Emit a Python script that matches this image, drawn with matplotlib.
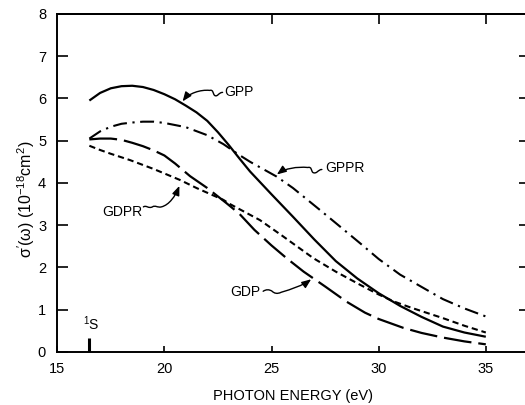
import matplotlib
matplotlib.use("Agg")
import matplotlib.pyplot as plt
import matplotlib.transforms as mtransforms
from matplotlib.path import Path
from matplotlib.patches import FancyArrowPatch

plt.rcParams['font.family'] = ['Liberation Sans', 'DejaVu Sans']
plt.rcParams['mathtext.fontset'] = 'custom'
plt.rcParams['mathtext.rm'] = 'Liberation Sans'
plt.rcParams['lines.scale_dashes'] = False

# photoionization cross sections (10^-18 cm^2) vs photon energy (eV)
gpp_e = [16.5, 17.0, 17.5, 18.0, 18.5, 19.0, 19.5, 20.0, 20.5, 21.0, 21.5, 22.0, 22.5,
         23.0, 23.5, 24.0, 25.0, 26.0, 27.0, 28.0, 29.0, 30.0, 31.0, 32.0, 33.0, 34.0, 35.0]
gpp_s = [5.95, 6.13, 6.24, 6.29, 6.30, 6.27, 6.20, 6.10, 5.98, 5.83, 5.67, 5.47, 5.20,
         4.90, 4.58, 4.27, 3.73, 3.20, 2.66, 2.15, 1.74, 1.39, 1.09, 0.83, 0.60, 0.46, 0.36]

gppr_e = [16.5, 17.0, 17.5, 18.0, 18.5, 19.0, 19.5, 20.0, 21.0, 22.0, 22.75, 23.5, 24.0,
          25.24, 26.0, 27.26, 28.0, 29.14, 30.0, 31.0, 32.24, 33.0, 34.0, 35.0]
gppr_s = [5.05, 5.22, 5.33, 5.40, 5.43, 5.45, 5.45, 5.42, 5.32, 5.13, 4.92, 4.66, 4.50,
          4.15, 3.88, 3.36, 3.05, 2.57, 2.20, 1.83, 1.47, 1.25, 1.03, 0.84]

gdp_e = [16.5, 17.0, 17.5, 18.0, 18.5, 19.0, 19.5, 20.0, 20.5, 21.2, 22.0, 22.9, 23.5,
         24.2, 25.0, 25.7, 26.5, 27.5, 28.5, 29.36, 30.0, 31.15, 32.0, 33.0, 34.0, 35.0]
gdp_s = [5.03, 5.05, 5.05, 5.02, 4.95, 4.87, 4.77, 4.65, 4.46, 4.16, 3.88, 3.52, 3.27,
         2.89, 2.52, 2.22, 1.90, 1.55, 1.19, 0.93, 0.78, 0.57, 0.45, 0.34, 0.25, 0.18]

gdpr_e = [16.5, 17.0, 17.5, 18.4, 19.5, 20.73, 21.5, 22.75, 23.06, 24.46, 25.5, 26.95,
          28.0, 29.13, 30.0, 30.68, 31.5, 33.0, 34.0, 35.0]
gdpr_s = [4.88, 4.78, 4.69, 4.54, 4.33, 4.07, 3.88, 3.60, 3.50, 3.12, 2.75, 2.22,
          1.90, 1.59, 1.36, 1.20, 1.05, 0.80, 0.62, 0.46]

# 1S threshold marker
thr_e = 16.5
thr_h = 0.32

x_ticks = [15, 20, 25, 30, 35]
y_ticks = [0, 1, 2, 3, 4, 5, 6, 7, 8]

# curve labels: text, text position, alignment, arrow tip, squiggle (pixel offsets from tip)
labels = [
    ("GPP", (22.78, 6.15), "left", (20.85, 5.93),
     [(40, 9), (36, 9), (35, 4), (32, 6), (30, 8), (31, 12), (27, 11), (18, 12), (6, 8), (0, 0)]),
    ("GPPR", (27.5, 4.36), "left", (25.25, 4.2),
     [(45, 5), (41, 5), (40, 0), (36, 2), (34, 4), (35, 8), (31, 7), (20, 8), (8, 6), (0, 0)]),
    ("GDPR", (18.96, 3.32), "right", (20.7, 3.93),
     [(-36, -21), (-33, -19), (-31, -23), (-27, -21), (-24, -19), (-22, -22), (-18, -21),
      (-10, -19), (-4, -10), (0, 0)]),
    ("GDP", (24.46, 1.43), "right", (26.85, 1.72),
     [(-48, -12), (-45, -10), (-42, -10), (-39, -12), (-37, -14), (-34, -15), (-30, -13),
      (-20, -10), (-8, -6), (0, 0)]),
]

fig = plt.figure(figsize=(5.25, 4.05), dpi=100)
ax = fig.add_axes([0.109, 0.131, 0.898, 0.8346])

ax.plot(gpp_e, gpp_s, color='k', lw=1.6, solid_capstyle='butt')
ax.plot(gppr_e, gppr_s, color='k', lw=1.5, dashes=(10, 4, 1.6, 4))
ax.plot(gdp_e, gdp_s, color='k', lw=1.6, dashes=(20, 5))
ax.plot(gdpr_e, gdpr_s, color='k', lw=1.5, dashes=(4.5, 2.8))

ax.vlines(thr_e, 0, thr_h, color='k', lw=2.2)
ax.text(thr_e + 0.1, thr_h + 0.12, r"$^{1}$S", ha='center', va='bottom', fontsize=10)


def squiggle(ax, tip, verts):
    # wavy leader drawn in pixel offsets around the tip point
    trans = (mtransforms.Affine2D().scale(1 / 100.0) + fig.dpi_scale_trans
             + mtransforms.ScaledTranslation(tip[0], tip[1], ax.transData))
    codes = [Path.MOVETO] + [Path.CURVE4] * (len(verts) - 1)
    arr = FancyArrowPatch(path=Path(verts, codes),
                          arrowstyle='-|>,head_length=0.55,head_width=0.22',
                          mutation_scale=10, lw=1.0, color='k',
                          transform=trans, clip_on=False)
    ax.add_patch(arr)


for name, pos, ha, tip, verts in labels:
    ax.text(pos[0], pos[1], name, ha=ha, va='center', fontsize=10)
    squiggle(ax, tip, verts)

ax.set_xlim(15, 37)
ax.set_ylim(0, 8)
ax.set_xticks(x_ticks)
ax.set_yticks(y_ticks)
ax.tick_params(axis='x', direction='in', length=4.5, width=1.2, pad=7, labelsize=10.5)
ax.tick_params(axis='y', direction='in', length=8, width=1.2, pad=8, labelsize=10.5)
for sp in ax.spines.values():
    sp.set_linewidth(1.4)

top = ax.secondary_xaxis('top')
top.set_xticks(x_ticks[1:])
top.tick_params(direction='in', length=7, width=1.2, labeltop=False)
top.spines['top'].set_linewidth(1.4)

right = ax.secondary_yaxis('right')
right.set_yticks(y_ticks[1:-1])
right.tick_params(direction='in', length=7, width=1.2, labelright=False)

fig.text(293 / 525, 1 - 395.7 / 405, "PHOTON ENERGY (eV)", ha='center', va='center', fontsize=10.5)
fig.text(26 / 525, 1 - 199 / 405, r"σ$'$(ω) (10$^{-18}$cm$^{2}$)", rotation=90,
         ha='center', va='center', fontsize=11.5)

fig.savefig("out.png", dpi=100)
